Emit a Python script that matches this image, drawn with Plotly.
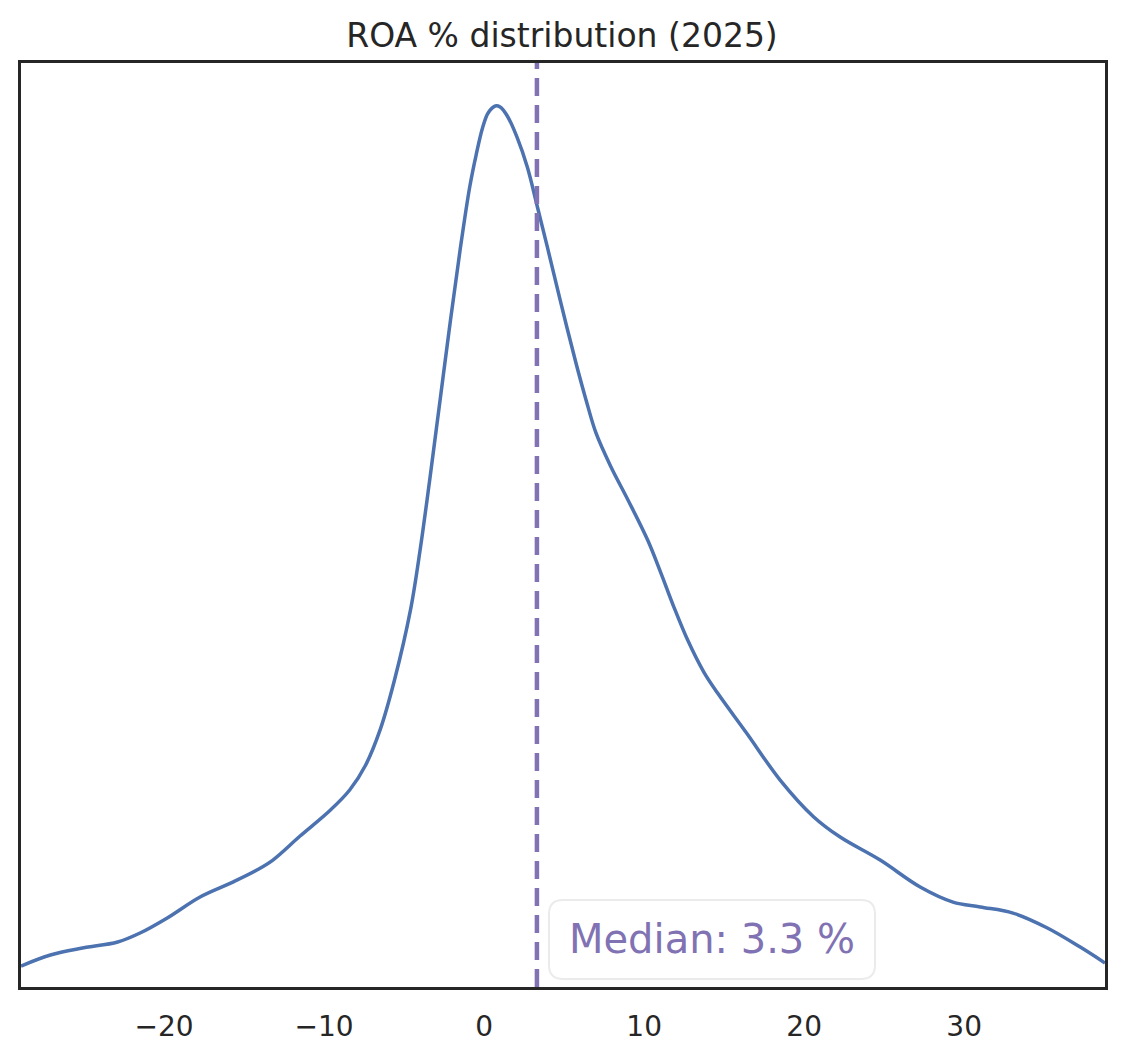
import plotly.graph_objects as go

# KDE of ROA %
roa_x = [-28.94, -27.1, -25.1, -22.9, -21.5, -19.8, -17.75, -15.7, -14.2, -13.2,
         -11.5, -9.6, -8.4, -7.4, -6.5, -5.6, -4.6, -4.0, -3.4, -2.75, -2.1, -1.5,
         -0.9, -0.5, -0.1, 0.25, 0.7, 1.0, 1.45, 2.05, 2.7, 3.3, 3.95, 4.75, 5.74,
         6.37, 6.99, 7.93, 8.99, 10.22, 11.05, 11.86, 12.72, 13.73, 14.59,
         16.4, 18.5, 20.6, 22.25, 24.75, 27.25, 29.3, 31.0, 33.05, 35.2, 37.25, 38.8]
density = [0.00124, 0.00189, 0.00230, 0.00266, 0.00319, 0.00408, 0.00532, 0.00620,
           0.00691, 0.00750, 0.00892, 0.01046, 0.01164, 0.01312, 0.01519, 0.01814,
           0.02228, 0.02582, 0.02996, 0.03469, 0.03941, 0.04355, 0.04727, 0.04916,
           0.05076, 0.05165, 0.05206, 0.05200, 0.05147, 0.05023, 0.04845, 0.04621,
           0.04373, 0.04060, 0.03687, 0.03469, 0.03274, 0.03073, 0.02878, 0.02641,
           0.02446, 0.02245, 0.02050, 0.01861, 0.01737,
           0.01501, 0.01223, 0.01005, 0.00886, 0.00750, 0.00591, 0.00502, 0.00473,
           0.00437, 0.00349, 0.00236, 0.00142]
median_value = 3.3
x_ticks = [-20, -10, 0, 10, 20, 30]
x_tick_labels = ["\u221220", "\u221210", "0", "10", "20", "30"]
title_text = "ROA % distribution (2025)"

BLUE = "#4C72B0"
PURPLE = "#8172B3"
DARK = "#262626"
FONT = "DejaVu Sans"

W, H = 1124, 1062
ML, MR, MT, MB = 21, 19, 63, 75
PW, PH = W - ML - MR, H - MT - MB


def rounded_box(px0, py0, px1, py1, r):
    """SVG path (paper coords) for a rounded rectangle given in page pixels."""
    def X(p):
        return (p - ML) / PW

    def Y(p):
        return (H - MB - p) / PH
    pts = [
        f"M {X(px0 + r)},{Y(py0)}",
        f"L {X(px1 - r)},{Y(py0)}",
        f"Q {X(px1)},{Y(py0)} {X(px1)},{Y(py0 + r)}",
        f"L {X(px1)},{Y(py1 - r)}",
        f"Q {X(px1)},{Y(py1)} {X(px1 - r)},{Y(py1)}",
        f"L {X(px0 + r)},{Y(py1)}",
        f"Q {X(px0)},{Y(py1)} {X(px0)},{Y(py1 - r)}",
        f"L {X(px0)},{Y(py0 + r)}",
        f"Q {X(px0)},{Y(py0)} {X(px0 + r)},{Y(py0)}",
        "Z",
    ]
    return " ".join(pts)


fig = go.Figure()
fig.add_trace(go.Scatter(
    x=roa_x, y=density, mode="lines",
    line=dict(color=BLUE, width=3.5, shape="spline", smoothing=1.0),
    hoverinfo="skip", showlegend=False,
))

fig.add_shape(type="line", xref="x", yref="paper",
              x0=median_value, x1=median_value, y0=0, y1=1,
              line=dict(color=PURPLE, width=4.5, dash="18px,9px"))

fig.add_shape(type="path", xref="paper", yref="paper",
              path=rounded_box(549, 900, 875, 979, 14),
              fillcolor="rgba(255,255,255,0.85)",
              line=dict(color="#ebebeb", width=2), layer="above")

fig.add_annotation(
    xref="paper", yref="paper", x=(712 - ML) / PW, y=(H - MB - 939) / PH,
    xanchor="center", yanchor="middle",
    text=f"Median: {median_value} %", showarrow=False,
    font=dict(family=FONT, size=40, color=PURPLE),
)

fig.update_layout(
    width=W, height=H,
    margin=dict(l=ML, r=MR, t=MT, b=MB),
    paper_bgcolor="white", plot_bgcolor="white",
    font=dict(family=FONT, color=DARK),
    title=dict(text=title_text, x=0.5, xanchor="center",
               y=1 - 35 / H, yanchor="middle", yref="container",
               font=dict(family=FONT, size=33, color=DARK)),
    xaxis=dict(range=[-28.94, 38.8], tickvals=x_ticks, ticktext=x_tick_labels,
               showgrid=False, zeroline=False, showline=True, mirror=True,
               linecolor=DARK, linewidth=2.5, ticks="", ticklabelstandoff=13,
               tickfont=dict(family=FONT, size=28, color=DARK)),
    yaxis=dict(range=[0, 0.0546], showticklabels=False, showgrid=False,
               zeroline=False, showline=True, mirror=True,
               linecolor=DARK, linewidth=2.5, ticks=""),
)

fig.write_html("out.html")
